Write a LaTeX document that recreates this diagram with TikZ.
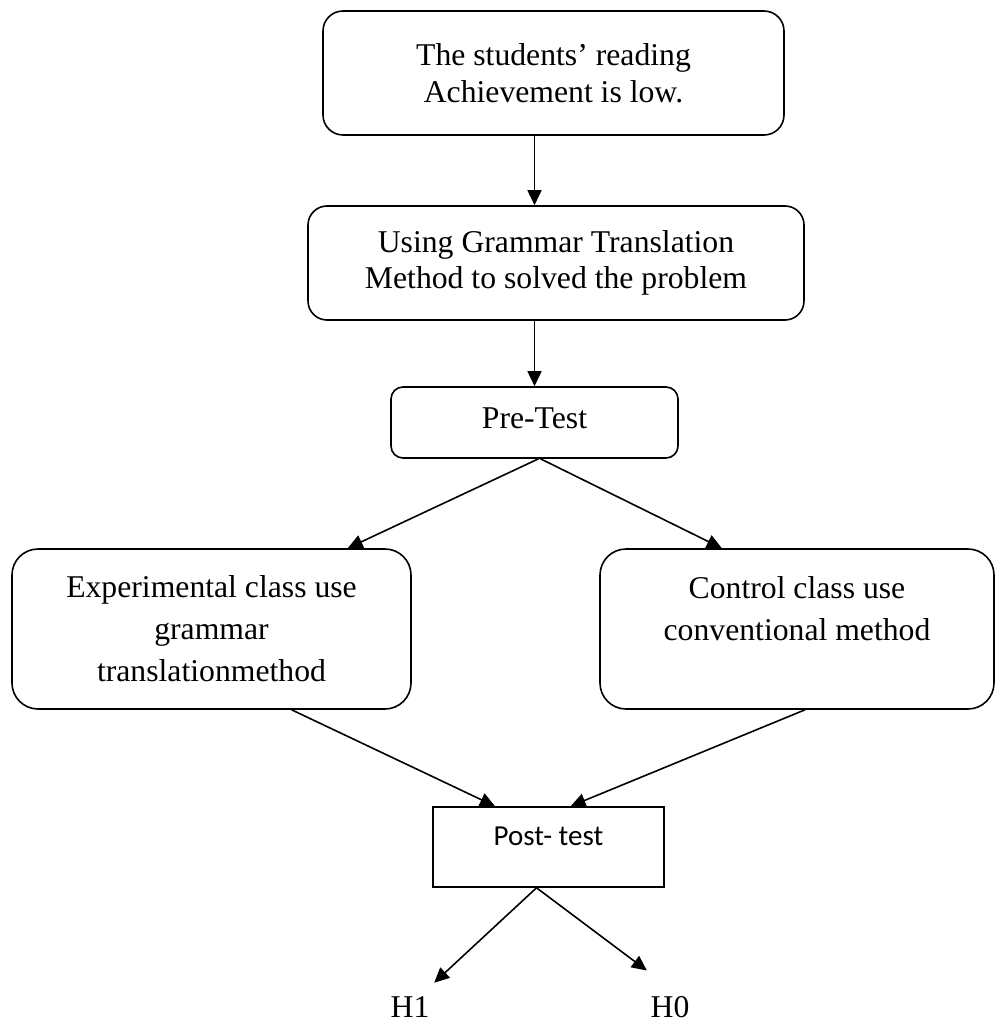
\documentclass[tikz,border=0pt]{standalone}
\usepackage{fontspec}
\setmainfont{Liberation Serif}
\newfontfamily\calibri{Carlito}
\usepackage{tikz}
\usetikzlibrary{arrows.meta}
\usetikzlibrary{calc}

\begin{document}
\begin{tikzpicture}[x=1pt,y=-1pt,line width=1.6pt,
	font=\fontsize{31.7}{36.5}\selectfont,
	box/.style={draw,rounded corners=#1,align=center,inner sep=0pt},
	arr/.style={-{Triangle[length=15pt,width=14pt]}}]
	
	\useasboundingbox (0,0) rectangle (997,1024);
	
	% boxes
	\node[box=20pt,minimum width=461pt,minimum height=124pt] (prob) at (553.5,73) {The students’ reading\\Achievement is low.};
	\node[box=19pt,minimum width=496pt,minimum height=114pt] (gtm) at (556,263) {Using Grammar Translation\\Method to solved the problem};
	\node[box=12pt,minimum width=287pt,text height=41pt,text depth=30pt] (pre) at (534.5,422.5) {Pre-Test};
	\node[box=26pt,minimum width=399pt,minimum height=160pt,font=\fontsize{31.7}{42}\selectfont] (exp) at (211.5,629) {Experimental class use\\grammar\\translationmethod};
	\node[box=26pt,minimum width=394pt,minimum height=160pt,font=\fontsize{31.7}{42}\selectfont] (ctl) at (797,629) {Control class use\\conventional method\\\mbox{}};
	\node[draw,inner sep=0pt,minimum width=231pt,text height=38pt,text depth=42pt,font=\calibri\fontsize{29}{34}\selectfont] (post) at (548.5,847) {Post- test};
	\node[inner sep=0pt] (h1) at (410,1007) {H1};
	\node[inner sep=0pt] (h0) at (670,1007) {H0};
	
	% arrows
	\draw[arr] (prob.south -| pre) -- (gtm.north -| pre);
	\draw[arr] (gtm.south -| pre) -- (pre.north);
	\draw[arr] ([xshift=4pt]pre.south) -- ($(exp.north)!0.68!(exp.north east)$);
	\draw[arr] ([xshift=6pt]pre.south) -- ($(ctl.north)!0.38!(ctl.north west)$);
	\draw[arr] ($(exp.south)!0.4!(exp.south east)$) -- ($(post.north)!0.46!(post.north west)$);
	\draw[arr] ([xshift=8pt]ctl.south) -- ($(post.north)!0.19!(post.north east)$);
	\draw[arr] ([xshift=-12pt]post.south) -- ([shift={(4,-13)}]h1.north east);
	\draw[arr] ([xshift=-12pt]post.south) -- ([shift={(-3,-25)}]h0.north west);
	
\end{tikzpicture}
\end{document}
